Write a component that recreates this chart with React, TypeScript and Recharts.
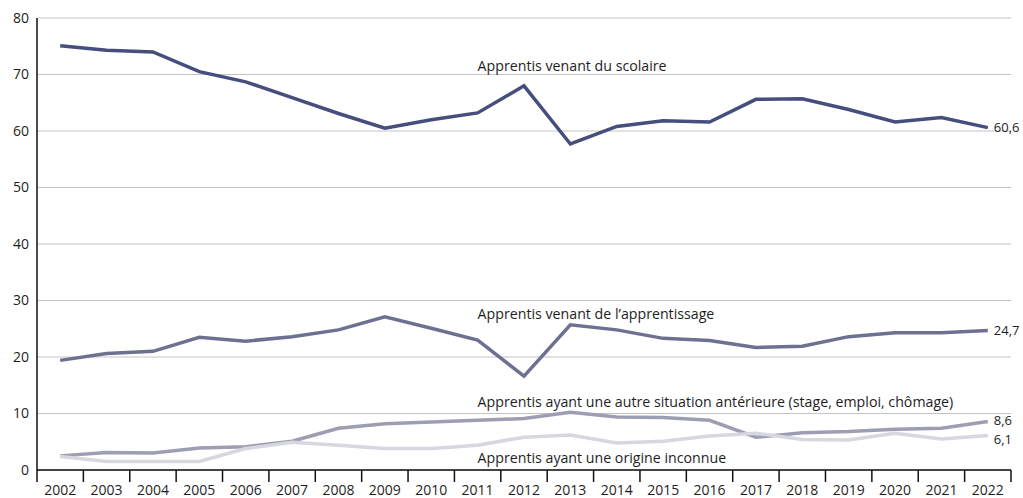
import { LineChart, Line, XAxis, YAxis, CartesianGrid, ReferenceDot } from 'recharts'

const years = [2002, 2003, 2004, 2005, 2006, 2007, 2008, 2009, 2010, 2011, 2012, 2013, 2014, 2015, 2016, 2017, 2018, 2019, 2020, 2021, 2022]
const scolaire = [75.1, 74.3, 74.0, 70.5, 68.7, 65.9, 63.1, 60.5, 62.0, 63.2, 68.0, 57.7, 60.8, 61.8, 61.6, 65.6, 65.7, 63.8, 61.6, 62.4, 60.6]
const apprentissage = [19.4, 20.6, 21.0, 23.5, 22.8, 23.6, 24.8, 27.1, 25.1, 23.0, 16.6, 25.7, 24.8, 23.3, 22.9, 21.7, 21.9, 23.6, 24.3, 24.3, 24.7]
const autre = [2.5, 3.1, 3.0, 3.9, 4.1, 5.1, 7.4, 8.2, 8.5, 8.8, 9.1, 10.2, 9.4, 9.3, 8.8, 5.8, 6.6, 6.8, 7.2, 7.4, 8.6]
const inconnue = [2.4, 1.5, 1.5, 1.5, 3.8, 4.9, 4.4, 3.8, 3.8, 4.4, 5.8, 6.2, 4.8, 5.1, 6.0, 6.5, 5.4, 5.3, 6.5, 5.5, 6.1]
const yTicks = [0, 10, 20, 30, 40, 50, 60, 70, 80]
// year labels sit on integers, tick marks on the boundaries between years
const xTicks = [2001.5, ...years.flatMap((y) => [y, y + 0.5])]

const annotations = [
  { text: 'Apprentis venant du scolaire', year: 2011, value: 71.5 },
  { text: 'Apprentis venant de l\u2019apprentissage', year: 2011, value: 27.6 },
  { text: 'Apprentis ayant une autre situation antérieure (stage, emploi, chômage)', year: 2011, value: 12.0 },
  { text: 'Apprentis ayant une origine inconnue', year: 2011, value: 2.1 },
]

const data = years.map((year, i) => ({
  year,
  scolaire: scolaire[i],
  apprentissage: apprentissage[i],
  autre: autre[i],
  inconnue: inconnue[i],
}))

const font = '"Open Sans", Lato, sans-serif'
const textColor = '#1e1e1e'

const series = [
  { key: 'scolaire', color: '#454e7c', shift: 0 },
  { key: 'apprentissage', color: '#6e7092', shift: 0 },
  { key: 'autre', color: '#9d9eb3', shift: -1 },
  { key: 'inconnue', color: '#d6d7df', shift: 4 },
]

const fmt = (v: number) => v.toFixed(1).replace('.', ',')

const endLabel = (shift: number) => (props: any) => {
  const { x, y, value, index } = props
  if (index !== years.length - 1) return null
  return (
    <text x={x + 6} y={y + shift} dy="0.35em" fontSize={13} fontFamily={font} fill={textColor}>
      {fmt(value)}
    </text>
  )
}

function XTick(props: any) {
  const { x, y, payload } = props
  const v = payload.value
  if (!Number.isInteger(v)) {
    return <line x1={x} x2={x} y1={y} y2={y + 12} stroke="#111" strokeWidth={1.5} />
  }
  return (
    <text x={x} y={y + 15} dy="0.71em" textAnchor="middle" fontSize={14} fontFamily={font} fill={textColor}>
      {v}
    </text>
  )
}

export default function App() {
  return (
    <div style={{ position: 'absolute', left: 0, top: 0 }}>
      <LineChart
        width={1023}
        height={498}
        data={data}
        margin={{ top: 18, right: 12, bottom: 0, left: 0 }}
      >
        <CartesianGrid vertical={false} stroke="#c4c4c4" />
        <XAxis
          type="number"
          dataKey="year"
          domain={[2001.5, 2022.5]}
          ticks={xTicks}
          interval={0}
          tickLine={false}
          tickSize={0}
          tickMargin={0}
          height={28}
          axisLine={{ stroke: '#111', strokeWidth: 1.5 }}
          tick={<XTick />}
        />
        <YAxis
          domain={[0, 80]}
          ticks={yTicks}
          width={37}
          tickLine={false}
          tickSize={0}
          tickMargin={8}
          axisLine={{ stroke: '#111', strokeWidth: 1.5 }}
          tick={{ fontSize: 14, fontFamily: font, fill: textColor }}
        />
        {series.map((s) => (
          <Line
            key={s.key}
            type="linear"
            dataKey={s.key}
            stroke={s.color}
            strokeWidth={3.5}
            dot={false}
            label={endLabel(s.shift)}
            isAnimationActive={false}
          />
        ))}
        {annotations.map((a) => (
          <ReferenceDot
            key={a.text}
            x={a.year}
            y={a.value}
            r={0}
            stroke="none"
            label={(p: any) => (
              <text
                x={p.viewBox.x}
                y={p.viewBox.y}
                dy="0.35em"
                fontSize={14.2}
                fontFamily={font}
                fill={textColor}
              >
                {a.text}
              </text>
            )}
          />
        ))}
      </LineChart>
    </div>
  )
}
